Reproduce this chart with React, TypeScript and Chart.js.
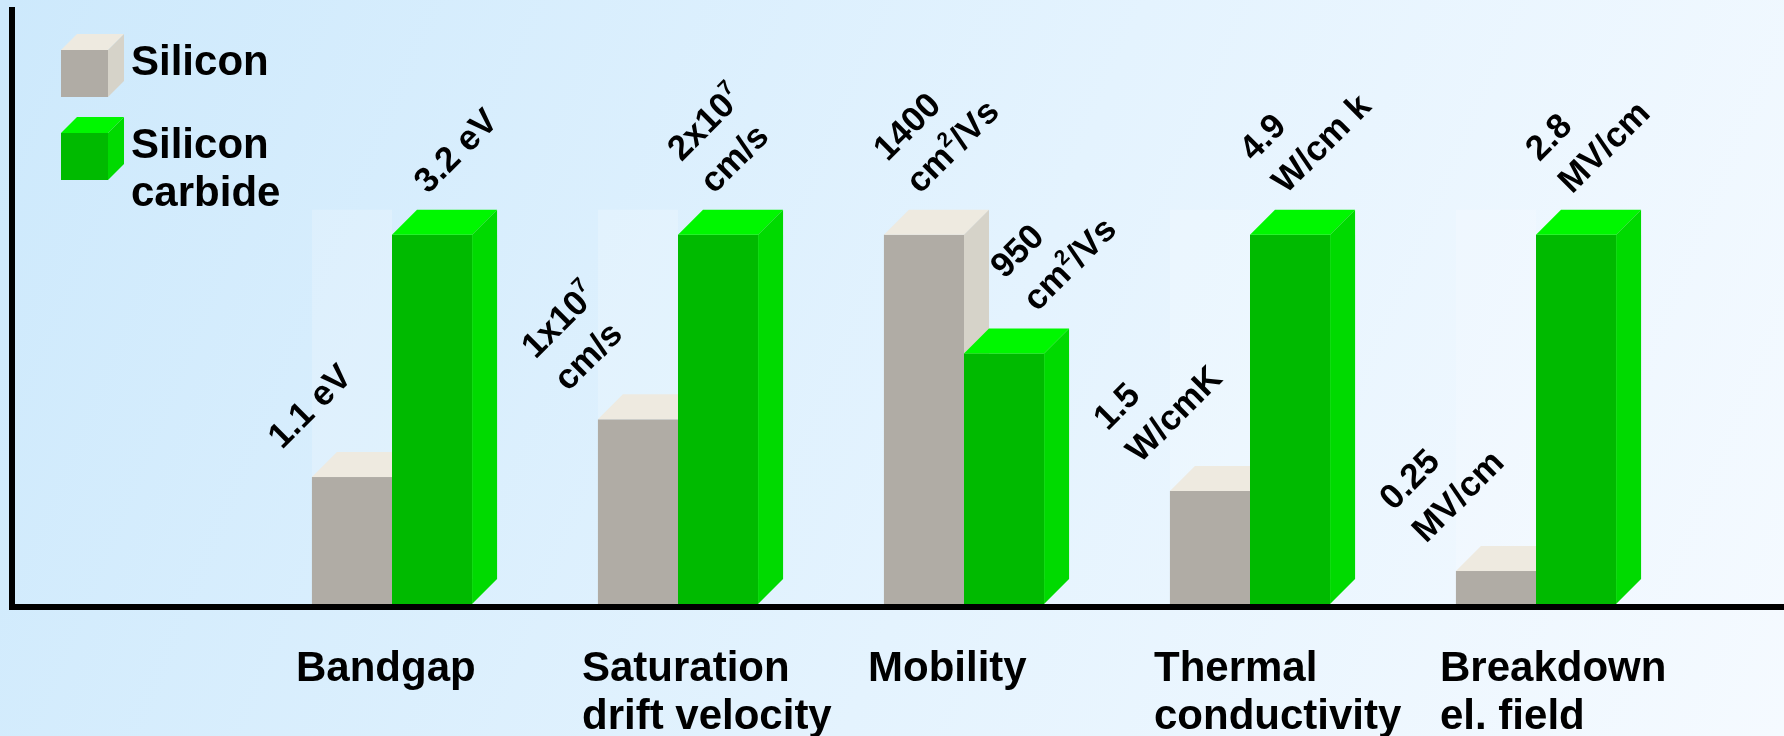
import React, { useEffect, useRef } from "react";
import { Chart, registerables } from "chart.js";

Chart.register(...registerables);

// Categories (each entry is the lines of its axis label)
const categories: string[][] = [
  ["Bandgap"],
  ["Saturation", "drift velocity"],
  ["Mobility"],
  ["Thermal", "conductivity"],
  ["Breakdown", "el. field"],
];

const seriesNames = ["Silicon", "Silicon carbide"];

// Material properties in their own units
const siliconValues = [1.1, 1e7, 1400, 1.5, 0.25];
const carbideValues = [3.2, 2e7, 950, 4.9, 2.8];

// Value captions ("^x" marks a superscript character)
const siliconLabels: string[][] = [
  ["1.1 eV"],
  ["1x10^7", "cm/s"],
  ["1400", "cm^2/Vs"],
  ["1.5", "W/cmK"],
  ["0.25", "MV/cm"],
];
const carbideLabels: string[][] = [
  ["3.2 eV"],
  ["2x10^7", "cm/s"],
  ["950", "cm^2/Vs"],
  ["4.9", "W/cm k"],
  ["2.8", "MV/cm"],
];

// Each property is shown relative to the larger of the two materials
const siliconRelative = siliconValues.map((v, i) => v / Math.max(v, carbideValues[i]));
const carbideRelative = carbideValues.map((v, i) => v / Math.max(v, siliconValues[i]));

const FONT = "'Liberation Sans', Arial, Helvetica, sans-serif";
const DEPTH = 25;

type Faces = { front: string; top: string; side: string };
const SILICON_FACES: Faces = { front: "#b0aca5", top: "#eeeae0", side: "#d6d3c9" };
const CARBIDE_FACES: Faces = { front: "#00ba00", top: "#00f700", side: "#00da00" };

function drawBox(
  ctx: CanvasRenderingContext2D,
  left: number,
  top: number,
  w: number,
  base: number,
  d: number,
  c: Faces
) {
  ctx.fillStyle = c.front;
  ctx.fillRect(left, top, w, base - top);
  ctx.fillStyle = c.top;
  ctx.beginPath();
  ctx.moveTo(left, top);
  ctx.lineTo(left + d, top - d);
  ctx.lineTo(left + w + d, top - d);
  ctx.lineTo(left + w, top);
  ctx.closePath();
  ctx.fill();
  ctx.fillStyle = c.side;
  ctx.beginPath();
  ctx.moveTo(left + w, top);
  ctx.lineTo(left + w + d, top - d);
  ctx.lineTo(left + w + d, base - d);
  ctx.lineTo(left + w, base);
  ctx.closePath();
  ctx.fill();
}

function drawRich(ctx: CanvasRenderingContext2D, text: string, x: number, y: number, size: number) {
  let cx = x;
  const parts = text.split(/(\^.)/);
  for (const p of parts) {
    if (!p) continue;
    if (p[0] === "^") {
      const s = p.slice(1);
      ctx.font = `bold ${Math.round(size * 0.6)}px ${FONT}`;
      ctx.fillText(s, cx, y - size * 0.42);
      cx += ctx.measureText(s).width;
    } else {
      ctx.font = `bold ${size}px ${FONT}`;
      ctx.fillText(p, cx, y);
      cx += ctx.measureText(p).width;
    }
  }
}

const slidePlugin = {
  id: "slideDecor",
  beforeDraw(chart: any) {
    const { ctx, width, height } = chart;
    const g = ctx.createLinearGradient(0, 0, width, height);
    g.addColorStop(0, "rgb(205,233,252)");
    g.addColorStop(0.55, "rgb(228,243,254)");
    g.addColorStop(1, "rgb(245,250,255)");
    ctx.save();
    ctx.fillStyle = g;
    ctx.fillRect(0, 0, width, height);
    ctx.restore();
  },
  afterDatasetsDraw(chart: any) {
    const { ctx, width } = chart;
    const yScale = chart.scales.y;
    const xScale = chart.scales.x;
    const zeroY = yScale.getPixelForValue(0);
    const siMeta = chart.getDatasetMeta(0);
    const scMeta = chart.getDatasetMeta(1);
    ctx.save();

    for (let i = 0; i < categories.length; i++) {
      const si = siMeta.data[i].getProps(["x", "y", "base", "width"], true);
      const sc = scMeta.data[i].getProps(["x", "y", "base", "width"], true);
      const siLeft = si.x - si.width / 2;
      const scLeft = sc.x - sc.width / 2;

      // faint light column behind the shorter left bar
      if (si.y > sc.y) {
        ctx.fillStyle = "rgba(255,255,255,0.2)";
        ctx.fillRect(siLeft, sc.y - DEPTH, si.width, si.y - sc.y + DEPTH);
      }

      drawBox(ctx, siLeft, si.y, si.width, si.base, DEPTH, SILICON_FACES);
      drawBox(ctx, scLeft, sc.y, sc.width, sc.base, DEPTH, CARBIDE_FACES);

      // value captions, rotated 45 degrees
      const place = (bar: any, left: number, lines: string[], isLeftBar: boolean, taller: boolean) => {
        let ax: number, ay: number;
        if (taller) {
          ax = left + 36;
          ay = bar.y - 40;
        } else if (isLeftBar) {
          ax = left - 30;
          ay = bar.y - 27;
        } else {
          ax = left + 73;
          ay = bar.y - 41;
        }
        ctx.save();
        ctx.translate(ax, ay);
        ctx.rotate(-Math.PI / 4);
        ctx.fillStyle = "#000";
        ctx.textAlign = "left";
        ctx.textBaseline = "alphabetic";
        const n = lines.length;
        lines.forEach((ln, k) => drawRich(ctx, ln, 0, -(n - 1 - k) * 46, 35));
        ctx.restore();
      };
      place(si, siLeft, siliconLabels[i], true, si.y <= sc.y);
      place(sc, scLeft, carbideLabels[i], false, sc.y <= si.y);
    }

    // axis lines
    ctx.fillStyle = "#000";
    ctx.fillRect(9, zeroY, width - 9, 6);
    ctx.fillRect(9, 7, 6, zeroY + 6 - 7);

    // category labels
    ctx.fillStyle = "#000";
    ctx.textAlign = "left";
    ctx.textBaseline = "alphabetic";
    ctx.font = `bold 42px ${FONT}`;
    categories.forEach((lines, i) => {
      const cx = xScale.getPixelForTick(i);
      lines.forEach((ln, k) => ctx.fillText(ln, cx - 96, 681 + k * 48));
    });

    // legend with small cubes
    const legendFaces = [SILICON_FACES, CARBIDE_FACES];
    seriesNames.forEach((name, i) => {
      const top = 50 + i * 83;
      drawBox(ctx, 61, top, 47, top + 47, 16, legendFaces[i]);
      ctx.fillStyle = "#000";
      ctx.font = `bold 42px ${FONT}`;
      name.split(" ").forEach((w, k) => ctx.fillText(w, 131, top + 25 + k * 48));
    });

    ctx.restore();
  },
};

export default function App() {
  const ref = useRef<HTMLCanvasElement>(null);

  useEffect(() => {
    const chart = new Chart(ref.current as HTMLCanvasElement, {
      type: "bar",
      data: {
        labels: categories,
        datasets: [
          {
            label: seriesNames[0],
            data: siliconRelative,
            backgroundColor: "rgba(0,0,0,0)",
            borderWidth: 0,
            categoryPercentage: 0.56,
            barPercentage: 1,
          },
          {
            label: seriesNames[1],
            data: carbideRelative,
            backgroundColor: "rgba(0,0,0,0)",
            borderWidth: 0,
            categoryPercentage: 0.56,
            barPercentage: 1,
          },
        ],
      },
      options: {
        responsive: false,
        animation: false,
        devicePixelRatio: 1,
        layout: { padding: { left: 249, right: 105, top: 50, bottom: 132 } },
        plugins: { legend: { display: false }, tooltip: { enabled: false } },
        scales: {
          x: { display: false },
          y: { display: false, min: 0, max: 1.5 },
        },
      },
      plugins: [slidePlugin],
    });
    return () => chart.destroy();
  }, []);

  return (
    <div style={{ position: "fixed", left: 0, top: 0, width: 1784, height: 736 }}>
      <canvas ref={ref} width={1784} height={736} style={{ display: "block" }} />
    </div>
  );
}
